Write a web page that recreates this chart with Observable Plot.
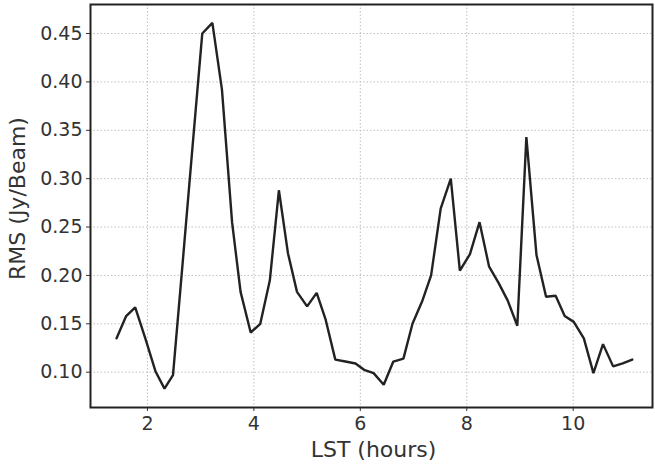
<!DOCTYPE html>
<html>
<head>
<meta charset="utf-8">
<script src="https://cdn.jsdelivr.net/npm/d3@7"></script>
<script src="https://cdn.jsdelivr.net/npm/@observablehq/plot@0.6"></script>
<style>
  html, body { margin: 0; padding: 0; background: #fff; }
  svg { font-family: "DejaVu Sans", sans-serif; }
</style>
</head>
<body>
<div id="chart"></div>
<script>
const lst = [1.42, 1.60, 1.77, 1.96, 2.15, 2.32, 2.48, 2.66, 2.85, 3.03, 3.22, 3.40, 3.59, 3.75, 3.94, 4.12, 4.30, 4.47, 4.64, 4.81, 5.00, 5.18, 5.35, 5.53, 5.72, 5.91, 6.07, 6.25, 6.44, 6.62, 6.81, 6.98, 7.16, 7.33, 7.51, 7.70, 7.87, 8.06, 8.24, 8.42, 8.60, 8.77, 8.95, 9.12, 9.31, 9.49, 9.67, 9.84, 10.01, 10.20, 10.38, 10.56, 10.75, 10.93, 11.11];
const rms = [0.135, 0.158, 0.167, 0.135, 0.101, 0.083, 0.097, 0.212, 0.335, 0.450, 0.461, 0.392, 0.255, 0.183, 0.141, 0.150, 0.195, 0.288, 0.223, 0.183, 0.168, 0.182, 0.154, 0.113, 0.111, 0.109, 0.1025, 0.099, 0.087, 0.111, 0.114, 0.150, 0.173, 0.200, 0.269, 0.300, 0.205, 0.222, 0.255, 0.209, 0.192, 0.174, 0.148, 0.343, 0.221, 0.178, 0.179, 0.158, 0.152, 0.135, 0.099, 0.129, 0.106, 0.109, 0.113];
const xTicks = [2, 4, 6, 8, 10];
const yTicks = [0.10, 0.15, 0.20, 0.25, 0.30, 0.35, 0.40, 0.45];
const xLabel = "LST (hours)";
const yLabel = "RMS (Jy/Beam)";

const data = lst.map((x, i) => ({x, y: rms[i]}));

const chart = Plot.plot({
  width: 655,
  height: 465,
  marginLeft: 90,
  marginRight: 3,
  marginTop: 4,
  marginBottom: 58,
  style: {background: "#fff", fontFamily: "DejaVu Sans, sans-serif", fontSize: "19px", color: "#333"},
  x: {domain: [0.93, 11.49]},
  y: {domain: [0.0635, 0.480]},
  marks: [
    Plot.gridX(xTicks, {stroke: "#b8b8b8", strokeOpacity: 1, strokeDasharray: "1.5,2", strokeWidth: 0.9}),
    Plot.gridY(yTicks, {stroke: "#b8b8b8", strokeOpacity: 1, strokeDasharray: "1.5,2", strokeWidth: 0.9}),
    Plot.axisX(xTicks, {tickSize: 4, tickPadding: 5, fontSize: 19, stroke: "#333", fill: "#333", label: null}),
    Plot.axisY(yTicks, {tickSize: 4, tickPadding: 4, fontSize: 19, stroke: "#333", fill: "#333",
      tickFormat: d3.format(".2f"), label: null}),
    Plot.text([xLabel], {frameAnchor: "bottom", dy: 42, dx: 2, fontSize: 22, fill: "#333", lineAnchor: "middle", textAnchor: "middle"}),
    Plot.text([yLabel], {frameAnchor: "left", dx: -72.5, dy: -7.5, rotate: -90, fontSize: 22, fill: "#333", lineAnchor: "middle", textAnchor: "middle"}),
    Plot.line(data, {x: "x", y: "y", stroke: "#222", strokeWidth: 2.4, strokeLinejoin: "miter"}),
    Plot.frame({stroke: "#222", strokeWidth: 2})
  ]
});
document.getElementById("chart").appendChild(chart);
</script>
</body>
</html>
